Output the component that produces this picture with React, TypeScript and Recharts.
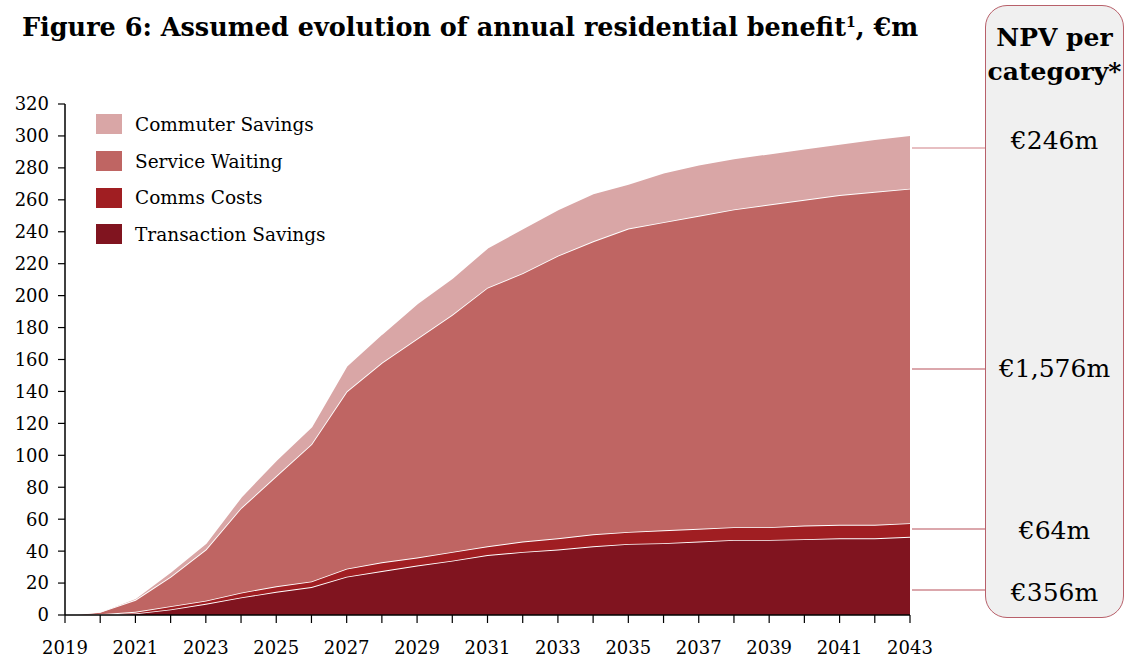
import React from "react";
import { Area, AreaChart, XAxis, YAxis } from "recharts";

// years 2019..2043
const anos = [
  2019, 2020, 2021, 2022, 2023, 2024, 2025, 2026, 2027, 2028, 2029, 2030, 2031,
  2032, 2033, 2034, 2035, 2036, 2037, 2038, 2039, 2040, 2041, 2042, 2043,
];

// €m per year
const transactionSavings = [
  0, 0.3, 1, 3.5, 7, 11, 14.5, 17.5, 24, 27.5, 31, 34, 37.5, 39.5, 41, 43,
  44.5, 45, 46, 47, 47, 47.5, 48, 48, 49,
];
const commsCosts = [
  0, 0.1, 1, 2, 2, 3, 3.5, 3.5, 5, 5.5, 5, 5.5, 5.5, 6.5, 7, 7.5, 7.5, 8, 8, 8,
  8, 8.5, 8.5, 8.5, 8.5,
];
const serviceWaiting = [
  0, 1.5, 7.5, 18.5, 32, 53, 69, 86, 111, 125, 137, 148.5, 162, 168, 177,
  183.5, 190, 193, 196, 199, 202, 204, 206.5, 208.5, 209.5,
];
const commuterSavings = [
  0, 0.2, 1, 3, 4, 7, 10, 11, 16, 18, 22, 23, 25, 28, 29, 30, 28, 31, 32, 32,
  32, 32, 32, 33, 33.5,
];

const yTicks = [0, 20, 40, 60, 80, 100, 120, 140, 160, 180, 200, 220, 240, 260, 280, 300, 320];

const npvLabels = ["€246m", "€1,576m", "€64m", "€356m"];

// bottom to top
const series = [
  { key: "transacao", nome: "Transaction Savings", cor: "#80141f" },
  { key: "comms", nome: "Comms Costs", cor: "#a01e22" },
  { key: "servico", nome: "Service Waiting", cor: "#bf6563" },
  { key: "commuter", nome: "Commuter Savings", cor: "#d9a6a6" },
];

const dados = anos.map((ano, i) => ({
  ano,
  transacao: transactionSavings[i],
  comms: commsCosts[i],
  servico: serviceWaiting[i],
  commuter: commuterSavings[i],
}));

const fonte = "'DejaVu Serif', serif";

const TickAno = (props: any) => {
  const { x, y, payload } = props;
  if (payload.value % 2 === 0) return null;
  return (
    <text x={x} y={y + 29} textAnchor="middle" fontFamily={fonte} fontSize={18} fill="#000">
      {payload.value}
    </text>
  );
};

export default function App() {
  // connector line y positions and label positions of the NPV panel
  const conectores = [148, 369, 529, 590];
  const rotulosY = [140, 368, 530, 592];

  return (
    <div style={{ position: "absolute", left: 0, top: 0, width: 1125, height: 659, background: "#fff" }}>
      <div
        style={{
          position: "absolute",
          left: 22,
          top: 12,
          fontFamily: fonte,
          fontWeight: "bold",
          fontSize: 25.5,
          whiteSpace: "nowrap",
        }}
      >
        Figure 6: Assumed evolution of annual residential benefit<sup style={{ fontSize: 14 }}>1</sup>, €m
      </div>

      <div style={{ position: "absolute", left: 0, top: 0 }}>
        <AreaChart
          width={1125}
          height={659}
          data={dados}
          margin={{ top: 104, right: 215, left: 0, bottom: 0 }}
        >
          <XAxis
            dataKey="ano"
            type="number"
            domain={[2019, 2043]}
            ticks={anos}
            interval={0}
            tick={<TickAno />}
            tickSize={8}
            height={44}
            axisLine={{ stroke: "#000", strokeWidth: 1.5 }}
            tickLine={{ stroke: "#000", strokeWidth: 1.2 }}
          />
          <YAxis
            domain={[0, 320]}
            ticks={yTicks}
            interval={0}
            width={65}
            tickSize={7}
            tickMargin={9}
            tick={{ fontFamily: fonte, fontSize: 18, fill: "#000" }}
            axisLine={{ stroke: "#000", strokeWidth: 1.5 }}
            tickLine={{ stroke: "#000", strokeWidth: 1.2 }}
          />
          {series.map((s) => (
            <Area
              key={s.key}
              type="linear"
              dataKey={s.key}
              name={s.nome}
              stackId="1"
              fill={s.cor}
              fillOpacity={1}
              stroke="#fff"
              strokeWidth={1.8}
              isAnimationActive={false}
            />
          ))}
        </AreaChart>
      </div>

      {/* legend, top to bottom */}
      <div style={{ position: "absolute", left: 96, top: 106, fontFamily: fonte, fontSize: 18.5 }}>
        {[...series].reverse().map((s) => (
          <div key={s.key} style={{ display: "flex", alignItems: "center", height: 36.7 }}>
            <span style={{ width: 26, height: 20, background: s.cor, marginRight: 13, display: "inline-block" }} />
            <span>{s.nome}</span>
          </div>
        ))}
      </div>

      <svg style={{ position: "absolute", left: 0, top: 0 }} width={1125} height={659}>
        {conectores.map((y, i) => (
          <line key={i} x1={912} x2={986} y1={y} y2={y} stroke={i === 0 ? "#cf8085" : "#b8505a"} strokeWidth={1.2} />
        ))}
      </svg>

      <div
        style={{
          position: "absolute",
          left: 985,
          top: 5,
          width: 137,
          height: 611,
          border: "1.5px solid #b8606a",
          borderRadius: 22,
          background: "#f0f0f0",
          fontFamily: fonte,
          textAlign: "center",
        }}
      >
        <div style={{ fontWeight: "bold", fontSize: 25, lineHeight: "34px", marginTop: 15, whiteSpace: "nowrap" }}>
          NPV per
          <br />
          category*
        </div>
        {npvLabels.map((t, i) => (
          <div
            key={t}
            style={{
              position: "absolute",
              left: 0,
              width: 137,
              top: rotulosY[i] - 5 - 16,
              fontSize: 25,
              lineHeight: "32px",
            }}
          >
            {t}
          </div>
        ))}
      </div>
    </div>
  );
}
